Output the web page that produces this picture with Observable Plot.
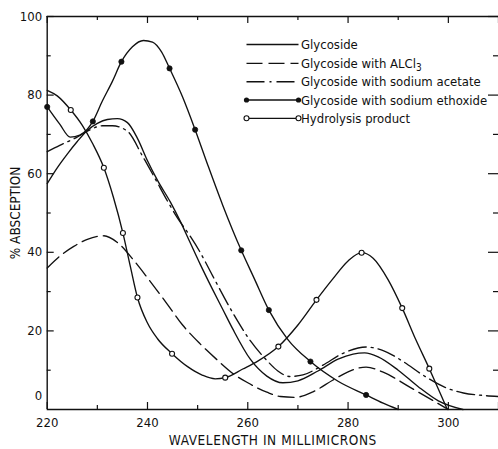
<!DOCTYPE html>
<html>
<head>
<meta charset="utf-8">
<script src="https://cdn.jsdelivr.net/npm/d3@7"></script>
<script src="https://cdn.jsdelivr.net/npm/@observablehq/plot@0.6"></script>
<style>
  body { margin: 0; background: #fff; }
  #chart svg { display: block; }
</style>
</head>
<body>
<div id="chart"></div>
<script>
// Absorption spectra of the glycoside and its shift reagents (wavelength in mμ, % absorption)
const glycosideWl  = [220, 222, 224, 226, 228, 230, 232, 234, 236, 238, 240, 242, 244.6, 246.5, 248.5, 250.5, 253, 255, 257, 260.5, 263.8, 267, 270, 274, 278, 281, 283.3, 286, 290, 294, 298, 302.9];
const glycosidePct = [57.5, 61.5, 65, 68.2, 71, 72.8, 73.8, 74, 73, 69, 63.3, 58.3, 52.7, 48, 42.5, 37, 30.5, 25.5, 20.5, 12.8, 8.5, 6.8, 7.3, 9.8, 12.8, 14.1, 14.4, 13.4, 10, 5.8, 2.2, 0];

const alcl3Wl  = [220, 222.5, 225.3, 228, 231.3, 234, 237.3, 240, 243.9, 247, 250.5, 254, 257.1, 260, 263.8, 266.5, 269.5, 273, 277, 280, 283.6, 287, 292.3, 296.9, 300];
const alcl3Pct = [36, 39, 41.5, 43.3, 44.2, 42.5, 37.9, 33.5, 26.9, 21.5, 16.7, 12.5, 9.1, 6.8, 4.4, 3.3, 3.1, 4.5, 7.5, 9.6, 10.8, 9.5, 5.7, 2.3, 0];

const acetateWl  = [220, 222.5, 225.8, 228, 231, 233, 236, 239, 241.5, 244, 246, 248.2, 250.5, 253, 257.1, 260.5, 263.8, 266, 268.4, 271, 275, 279, 283.6, 287, 291, 295, 299.6, 303, 306.8, 310];
const acetatePct = [65.6, 67.2, 69.2, 70.8, 72.2, 72.2, 70.8, 64.5, 58.8, 53, 48.7, 44.7, 40, 34, 24.4, 17.5, 12.5, 9.8, 8.4, 8.8, 11.3, 14.3, 15.9, 15, 12.2, 8.7, 5.5, 4.2, 3.6, 3.3];

const ethoxideWl  = [220, 222.5, 224.6, 226.5, 228, 229.1, 231, 233, 234.8, 237, 239.2, 241, 242.8, 244.4, 247, 249.5, 252, 255, 258.7, 261.3, 264.2, 268, 272.5, 278, 283.6, 287, 290];
const ethoxidePct = [77, 72.6, 69.3, 69.8, 71.3, 73.3, 78.5, 83.5, 88.5, 92.3, 93.9, 93.5, 91, 86.8, 79.5, 71.2, 62.3, 52, 40.5, 33.3, 25.3, 17.8, 12.2, 7.2, 3.7, 1.6, 0];
const ethoxideMeasured = [220, 229.1, 234.8, 244.4, 249.5, 258.7, 264.2, 272.5, 283.6];

const hydrolysisWl  = [220, 222, 224.7, 227, 229, 231.3, 233.2, 235.1, 236.6, 238, 240, 242, 244.9, 248, 251, 253.5, 255.5, 259, 262, 266.1, 270, 273.7, 277, 280, 282.7, 285, 288, 290.8, 293.5, 296.2, 298, 299.8];
const hydrolysisPct = [81.2, 79.8, 76.2, 72.3, 67.8, 61.5, 54, 44.9, 36.3, 28.5, 22, 18, 14.2, 10.9, 8.7, 7.8, 8.1, 10.3, 12.3, 16, 21.5, 27.9, 33.3, 37.8, 39.9, 38.5, 33, 25.8, 17.8, 10.4, 5.2, 0];
const hydrolysisMeasured = [224.7, 231.3, 235.1, 238, 244.9, 255.5, 266.1, 273.7, 282.7, 290.8, 296.2];

const legendLabels = ["Glycoside", "Glycoside with ALCl3", "Glycoside with sodium acetate", "Glycoside with sodium ethoxide", "Hydrolysis product"];

const xLabelTicks = [220, 240, 260, 280, 300];
const xMinorTicks = [230, 250, 270, 290];
const yLabelTicks = [20, 40, 60, 80, 100];
const yMinorTicks = [10, 30, 50, 70, 90];

const xTitle = "WAVELENGTH IN MILLIMICRONS";
const yTitle = "% ABSCEPTION";

const FONT = "'DejaVu Sans Condensed', 'Liberation Sans Narrow', 'DejaVu Sans', sans-serif";
const INK = "#111";

const toRows = (wl, pct) => wl.map((w, i) => ({wl: w, pct: pct[i]}));
const glycoside = toRows(glycosideWl, glycosidePct);
const alcl3 = toRows(alcl3Wl, alcl3Pct);
const acetate = toRows(acetateWl, acetatePct);
const ethoxide = toRows(ethoxideWl, ethoxidePct);
const hydrolysis = toRows(hydrolysisWl, hydrolysisPct);
const ethoxideDots = ethoxide.filter(d => ethoxideMeasured.includes(d.wl));
const hydrolysisDots = hydrolysis.filter(d => hydrolysisMeasured.includes(d.wl));

const W = 498, H = 449;
const mL = 46.7, mR = 0, mT = 16, mB = 40;
const innerH = H - mT - mB, innerW = W - mL - mR;

const lineStyle = {x: "wl", y: "pct", stroke: INK, strokeWidth: 1.35, curve: "monotone-x"};

const chart = Plot.plot({
  width: W, height: H,
  marginLeft: mL, marginRight: mR, marginTop: mT, marginBottom: mB,
  x: {domain: [220, 310], axis: null},
  y: {domain: [0, 100], axis: null},
  style: {fontFamily: FONT, fontSize: "13px", color: INK, background: "#fff", overflow: "visible"},
  marks: [
    // frame: left, bottom, top
    Plot.ruleX([220], {stroke: INK, strokeWidth: 1.4}),
    Plot.ruleY([0, 100], {stroke: INK, strokeWidth: 1.4}),
    // inward ticks on bottom and top
    Plot.tickX(xLabelTicks.concat([310]), {x: d => d, stroke: INK, strokeWidth: 1.2, insetTop: innerH - 7}),
    Plot.tickX(xMinorTicks, {x: d => d, stroke: INK, strokeWidth: 1.2, insetTop: innerH - 4}),
    Plot.tickX(xLabelTicks.concat([310]), {x: d => d, stroke: INK, strokeWidth: 1.2, insetBottom: innerH - 7}),
    Plot.tickX(xMinorTicks, {x: d => d, stroke: INK, strokeWidth: 1.2, insetBottom: innerH - 4}),
    // inward ticks on left and right
    Plot.tickY(yLabelTicks, {y: d => d, stroke: INK, strokeWidth: 1.2, insetRight: innerW - 7}),
    Plot.tickY(yMinorTicks, {y: d => d, stroke: INK, strokeWidth: 1.2, insetRight: innerW - 4}),
    Plot.tickY(yLabelTicks, {y: d => d, stroke: INK, strokeWidth: 1.2, insetLeft: innerW - 10}),
    Plot.tickY(yMinorTicks, {y: d => d, stroke: INK, strokeWidth: 1.2, insetLeft: innerW - 5}),
    // tick labels
    Plot.text(xLabelTicks, {x: d => d, frameAnchor: "bottom", dy: 13, lineAnchor: "middle", text: d => String(d), fill: INK}),
    Plot.text(yLabelTicks, {y: d => d, frameAnchor: "left", dx: -5, textAnchor: "end", text: d => String(d), fill: INK}),
    Plot.text([0], {y: d => d, frameAnchor: "left", dx: -5, dy: -14, textAnchor: "end", text: d => String(d), fill: INK}),
    // axis titles
    Plot.text([xTitle], {frameAnchor: "bottom", dy: 31.5, lineAnchor: "middle", textAnchor: "middle", fill: INK, fontSize: 13.5}),
    Plot.text([yTitle], {frameAnchor: "left", dx: -32, rotate: -90, textAnchor: "middle", lineAnchor: "middle", fill: INK, fontSize: 13.5}),
    // spectra
    Plot.line(glycoside, lineStyle),
    Plot.line(alcl3, {...lineStyle, strokeDasharray: "16,6"}),
    Plot.line(acetate, {...lineStyle, strokeDasharray: "18,5,2,5"}),
    Plot.line(ethoxide, lineStyle),
    Plot.line(hydrolysis, lineStyle),
    Plot.dot(ethoxideDots, {x: "wl", y: "pct", r: 2.6, fill: INK, stroke: INK, strokeWidth: 0.8}),
    Plot.dot(hydrolysisDots, {x: "wl", y: "pct", r: 2.5, fill: "#fff", stroke: INK, strokeWidth: 1.1})
  ]
});

document.getElementById("chart").append(chart);

const svg = d3.select(chart);

// the wavelength title is set with wider letter spacing
svg.selectAll("text").filter(function () { return this.textContent === xTitle; })
  .attr("letter-spacing", "0.6px");

// key in the upper right of the plot area
const key = svg.append("g")
  .attr("font-family", FONT).attr("font-size", 13).attr("fill", INK)
  .attr("text-anchor", "start");
const keyX1 = 246.5, keyX2 = 298.5, keyTextX = 301;
const keyRows = [44.5, 63.3, 81.7, 100, 118.3];
const keyDash = [null, "16,6", "18,5,2,5", null, null];
legendLabels.forEach((label, i) => {
  const y = keyRows[i];
  key.append("line")
    .attr("x1", keyX1).attr("x2", keyX2).attr("y1", y).attr("y2", y)
    .attr("stroke", INK).attr("stroke-width", 1.35)
    .attr("stroke-dasharray", keyDash[i]);
  if (i === 3) {
    [keyX1, keyX2].forEach(cx => key.append("circle").attr("cx", cx).attr("cy", y).attr("r", 2.6).attr("fill", INK));
  }
  if (i === 4) {
    [keyX1, keyX2].forEach(cx => key.append("circle").attr("cx", cx).attr("cy", y).attr("r", 2.5)
      .attr("fill", "#fff").attr("stroke", INK).attr("stroke-width", 1.1));
  }
  const t = key.append("text").attr("x", keyTextX).attr("y", y).attr("dy", "0.35em");
  const m = label.match(/^(.*?)(\d+)$/);
  if (m) {
    t.append("tspan").text(m[1]);
    t.append("tspan").attr("dy", 3).attr("font-size", 10).text(m[2]);
  } else {
    t.text(label);
  }
});
</script>
</body>
</html>
